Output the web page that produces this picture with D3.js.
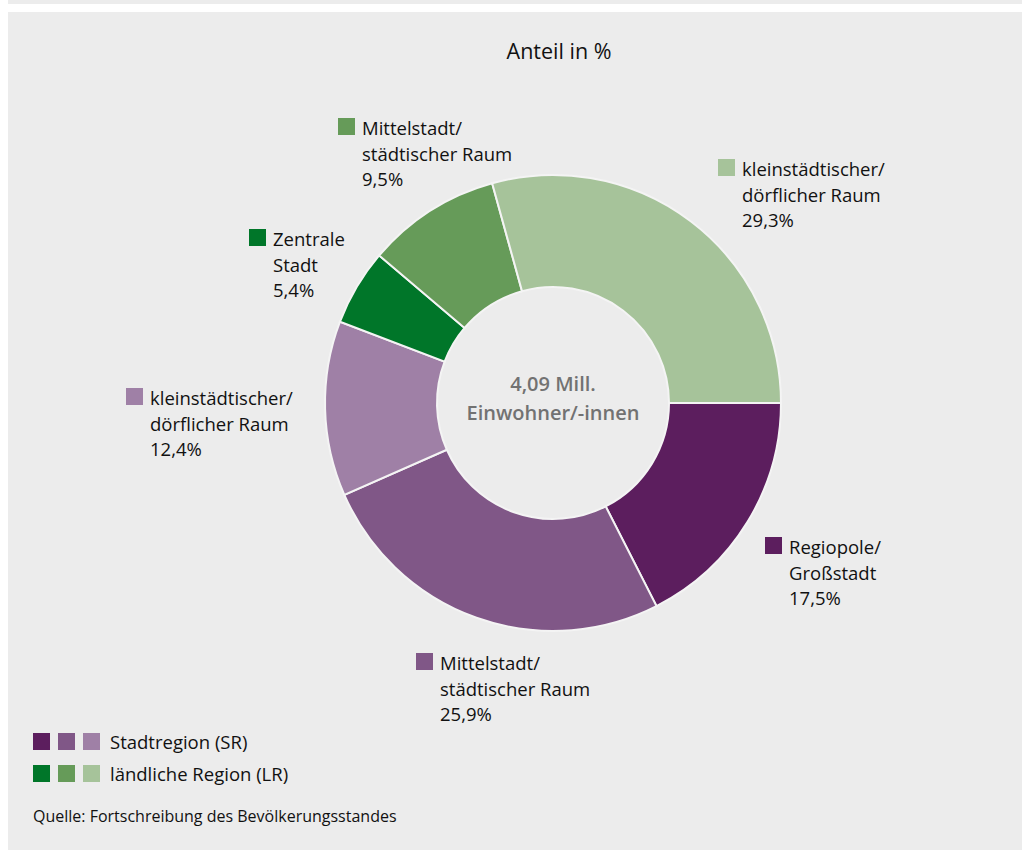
<!DOCTYPE html>
<html lang="de">
<head>
<meta charset="utf-8">
<script src="https://cdn.jsdelivr.net/npm/d3@7"></script>
<style>
  html, body { margin: 0; padding: 0; background: #fff; }
  svg { display: block; font-family: 'Open Sans', 'Noto Sans', sans-serif; }
</style>
</head>
<body>
<svg id="svg" width="1022" height="850"></svg>
<script>
const categories = [
  ['Regiopole/', 'Großstadt'],
  ['Mittelstadt/', 'städtischer Raum'],
  ['kleinstädtischer/', 'dörflicher Raum'],
  ['Zentrale', 'Stadt'],
  ['Mittelstadt/', 'städtischer Raum'],
  ['kleinstädtischer/', 'dörflicher Raum']
]
const shares = [17.5, 25.9, 12.4, 5.4, 9.5, 29.3]
const regions = ['SR', 'SR', 'SR', 'LR', 'LR', 'LR']
const legendLabels = ['Stadtregion (SR)', 'ländliche Region (LR)']
const totalLabel = ['4,09 Mill.', 'Einwohner/-innen']

const colors = ['#5c1e5e', '#805787', '#9f80a6', '#007629', '#669b59', '#a6c39a']

// where each slice label's square sits (top-left)
const labelAnchors = [
  [765, 537], [416, 653], [126, 388], [249, 229], [338, 118], [718, 159]
]

const width = 1022
const height = 850
const cx = 553
const cy = 403
const outerR = 228
const innerR = 116
const bg = '#ececec'

const de = d3.formatLocale({ decimal: ',', thousands: '.', grouping: [3], currency: ['', ' €'] })
const fmt = de.format('.1f')

const svg = d3.select('#svg')

svg.append('rect')
  .attr('x', 8).attr('y', 0).attr('width', width - 8).attr('height', 4)
  .attr('fill', bg)
svg.append('rect')
  .attr('x', 8).attr('y', 12).attr('width', width - 8).attr('height', height - 12)
  .attr('fill', bg)

svg.append('text')
  .attr('x', 559).attr('y', 59)
  .attr('text-anchor', 'middle')
  .attr('font-size', 21.5)
  .attr('fill', '#111')
  .text('Anteil in %')

const data = shares.map((v, i) => ({ v, i, region: regions[i] }))

const pie = d3.pie()
  .value(d => d.v)
  .sort(null)
  .startAngle(Math.PI / 2)
  .endAngle(Math.PI / 2 + 2 * Math.PI)

const arc = d3.arc().innerRadius(innerR).outerRadius(outerR)

const donut = svg.append('g').attr('transform', `translate(${cx}, ${cy})`)

donut.selectAll('path')
  .data(pie(data))
  .join('path')
  .attr('d', arc)
  .attr('fill', d => colors[d.data.i])
  .attr('stroke', '#f4f4f4')
  .attr('stroke-width', 2)

donut.append('text')
  .attr('text-anchor', 'middle')
  .attr('font-size', 20)
  .attr('font-weight', 600)
  .attr('fill', '#727272')
  .selectAll('tspan')
  .data(totalLabel)
  .join('tspan')
  .attr('x', 0)
  .attr('y', (d, i) => -12 + i * 29)
  .text(d => d)

// slice labels
const labels = svg.append('g')
data.forEach((d, i) => {
  const [x, y] = labelAnchors[i]
  labels.append('rect')
    .attr('x', x).attr('y', y).attr('width', 17).attr('height', 17)
    .attr('fill', colors[i])
  const lines = categories[i].concat([fmt(d.v) + '%'])
  labels.append('text')
    .attr('font-size', 18.5)
    .attr('fill', '#111')
    .selectAll('tspan')
    .data(lines)
    .join('tspan')
    .attr('x', x + 24)
    .attr('y', (l, j) => y + 17 + j * 25.5)
    .text(l => l)
})

// legend
const legend = svg.append('g')
legendLabels.forEach((lab, r) => {
  const key = r === 0 ? 'SR' : 'LR'
  const cols = colors.filter((c, i) => regions[i] === key)
  legend.selectAll(null)
    .data(cols)
    .join('rect')
    .attr('x', (c, k) => 33 + k * 25)
    .attr('y', 733 + r * 32)
    .attr('width', 17).attr('height', 17)
    .attr('fill', c => c)
  legend.append('text')
    .attr('x', 110).attr('y', 749 + r * 32)
    .attr('font-size', 18.5)
    .attr('fill', '#111')
    .text(lab)
})

svg.append('text')
  .attr('x', 33).attr('y', 822)
  .attr('font-size', 16)
  .attr('fill', '#111')
  .text('Quelle: Fortschreibung des Bevölkerungsstandes')
</script>
</body>
</html>
